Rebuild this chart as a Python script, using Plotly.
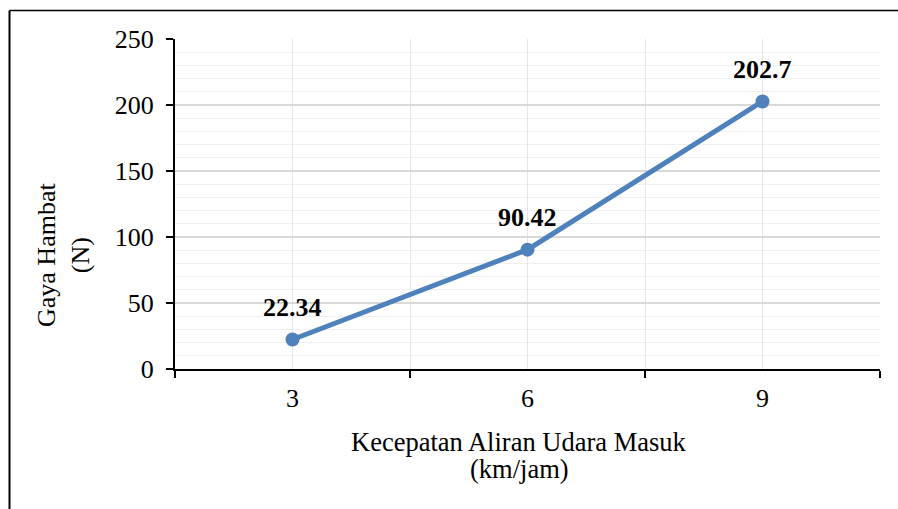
import plotly.graph_objects as go

# Air inflow speed (km/jam) vs drag force (N)
kecepatan = [3, 6, 9]
gaya_hambat = [22.34, 90.42, 202.7]
tick_labels = ["3", "6", "9"]

FONT = "Liberation Serif, Times New Roman, serif"
BLUE = "#4f81bd"

W, H = 898, 509
L, R, T, B = 175, 18, 39, 140
PW, PH = W - L - R, H - T - B


def px_to_paper(px, py):
    return (px - L) / PW, (H - B - py) / PH


fig = go.Figure()
fig.add_trace(go.Scatter(
    x=kecepatan, y=gaya_hambat, mode="lines+markers",
    line=dict(color=BLUE, width=5),
    marker=dict(color=BLUE, size=14),
    hoverinfo="skip", showlegend=False,
))

# value labels above each point
for xv, yv in zip(kecepatan, gaya_hambat):
    fig.add_annotation(
        x=xv, y=yv, text=f"<b>{yv}</b>", showarrow=False,
        yshift=32, font=dict(family=FONT, size=26, color="black"),
    )

# x-axis title, two tightly spaced lines
for line_text, py in [("Kecepatan Aliran Udara Masuk", 442), ("(km/jam)", 469)]:
    tx, ty = px_to_paper(519, py)
    fig.add_annotation(
        x=tx, y=ty, xref="paper", yref="paper", xanchor="center", yanchor="middle",
        text=line_text, showarrow=False,
        font=dict(family=FONT, size=26.5, color="black"),
    )

# y-axis title, rotated
tx, ty = px_to_paper(63, 255)
fig.add_annotation(
    x=tx, y=ty, xref="paper", yref="paper", xanchor="center", yanchor="middle",
    textangle=-90,
    text="Gaya Hambat<br>(N)", showarrow=False,
    font=dict(family=FONT, size=26, color="black"), align="center",
)

# outer chart frame (top and left edges)
x0, y0 = px_to_paper(9.5, 10.5)
x1, y1 = px_to_paper(898, 509)
fig.add_shape(type="line", xref="paper", yref="paper", x0=x0, y0=y0, x1=x1, y1=y0,
              line=dict(color="black", width=1.5))
fig.add_shape(type="line", xref="paper", yref="paper", x0=x0, y0=y0, x1=x0, y1=y1,
              line=dict(color="black", width=2))

fig.update_xaxes(
    range=[1.5, 10.5], tickvals=kecepatan, ticktext=tick_labels, ticks="",
    ticklabelstandoff=5,
    showgrid=True, gridcolor="#e6e6e6", gridwidth=1,
    showline=True, linecolor="black", linewidth=2,
    tickfont=dict(family=FONT, size=26, color="black"),
    minor=dict(tickvals=[1.5, 4.5, 7.5, 10.5], ticks="outside", ticklen=7,
               tickwidth=2, tickcolor="black", showgrid=True,
               gridcolor="#e6e6e6", gridwidth=1),
    zeroline=False, fixedrange=True,
)
fig.update_yaxes(
    range=[0, 250], dtick=50, tick0=0, ticks="outside", ticklen=7,
    tickwidth=2, tickcolor="black", ticklabelstandoff=7,
    showgrid=True, gridcolor="#d9d9d9", gridwidth=1.5,
    showline=True, linecolor="black", linewidth=2,
    tickfont=dict(family=FONT, size=26, color="black"),
    minor=dict(dtick=10, showgrid=True, gridcolor="#f0f0f0", gridwidth=1),
    zeroline=False, fixedrange=True,
)

fig.update_layout(
    width=W, height=H,
    margin=dict(l=L, r=R, t=T, b=B, autoexpand=False),
    paper_bgcolor="white", plot_bgcolor="white",
    font=dict(family=FONT, color="black"),
)

fig.write_html("out.html")
